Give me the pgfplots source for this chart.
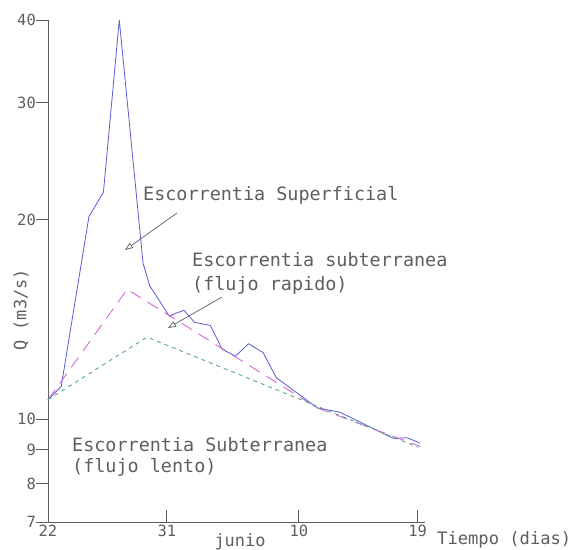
\documentclass[border=0pt]{standalone}
\usepackage{pgfplots}
\pgfplotsset{compat=1.18}
\usepackage{fontspec}
\setmainfont{DejaVu Sans Mono}
\usetikzlibrary{arrows.meta}
\definecolor{txt}{HTML}{5E5E5E}
\definecolor{qblue}{HTML}{5A5AD2}
\definecolor{qmag}{HTML}{D468D4}
\definecolor{qgreen}{HTML}{5AA888}
\begin{document}
\begin{tikzpicture}[x=1bp,y=1bp]
\useasboundingbox (-48,-28) rectangle (530,522);
\begin{axis}[at={(0,0)}, anchor=south west, scale only axis,
  width=377bp, height=502bp,
  xmin=0, xmax=28.56, ymode=log, ymin=7, ymax=40,
  axis lines=left, axis line style={-, txt, line width=0.9pt},
  clip=false,
  tick align=inside, major tick length=12bp,
  tick style={txt, line width=0.9pt},
  ytick style={xshift=-12bp},
  xtick={0,9,19,28}, xticklabels={22,31,10,19},
  ytick={7,8,9,10,20,30,40}, yticklabels={7,8,9,10,20,30,40},
  minor ytick={}, log basis y=10,
  /pgf/number format/assume math mode=true,
  yticklabel style={font=\fontsize{15.5}{16}\selectfont, text=txt, xshift=-11bp, inner sep=1bp},
  xticklabel style={font=\fontsize{15.5}{16}\selectfont, text=txt},
]
\addplot[qblue, line width=0.8pt] coordinates {
(0,10.7)(1.0,11.2)(3.1,20.2)(4.2,22.0)(5.4,40)(7.2,17.2)(7.7,15.9)(9.2,14.3)(9.5,14.4)(10.3,14.6)(11.1,14.0)(12.3,13.85)(13.2,12.75)(14.2,12.45)(15.2,13.0)(16.3,12.6)(17.3,11.55)(20.4,10.4)(22.1,10.25)(26.2,9.35)(27.2,9.38)(28.2,9.2)
};
\addplot[qmag, line width=0.9pt, dash pattern=on 12bp off 8bp] coordinates {
(0,10.7)(6.0,15.7)(20.4,10.4)(28.2,9.1)
};
\addplot[qgreen, line width=0.9pt, dash pattern=on 4bp off 4bp] coordinates {
(0,10.7)(7.5,13.3)(28.05,9.07)
};
\end{axis}
\begin{scope}[every node/.style={text=txt, inner sep=0pt}]
\node[anchor=west, font=\fontsize{18.5}{19}\selectfont] at (95,327) {Escorrentia Superficial};
\node[anchor=west, font=\fontsize{18.5}{19}\selectfont] at (144,262) {Escorrentia subterranea};
\node[anchor=west, font=\fontsize{18.5}{19}\selectfont] at (144,237) {(flujo rapido)};
\node[anchor=west, font=\fontsize{18.5}{19}\selectfont] at (24,77) {Escorrentia Subterranea};
\node[anchor=west, font=\fontsize{18.5}{19}\selectfont] at (24,55) {(flujo lento)};
\node[anchor=west, font=\fontsize{17.2}{18}\selectfont] at (389,-18) {Tiempo (dias)};
\node[font=\fontsize{17}{18}\selectfont] at (192,-20) {junio};
\node[rotate=90, font=\fontsize{17}{18}\selectfont] at (-27,212) {Q (m3/s)};
\end{scope}
\draw[txt, line width=0.7pt, -{Triangle[open, length=8bp, width=6bp]}] (129,309) -- (77,272);
\draw[txt, line width=0.7pt, -{Triangle[open, length=8bp, width=6bp]}] (174,225) -- (120,194);
\end{tikzpicture}
\end{document}
